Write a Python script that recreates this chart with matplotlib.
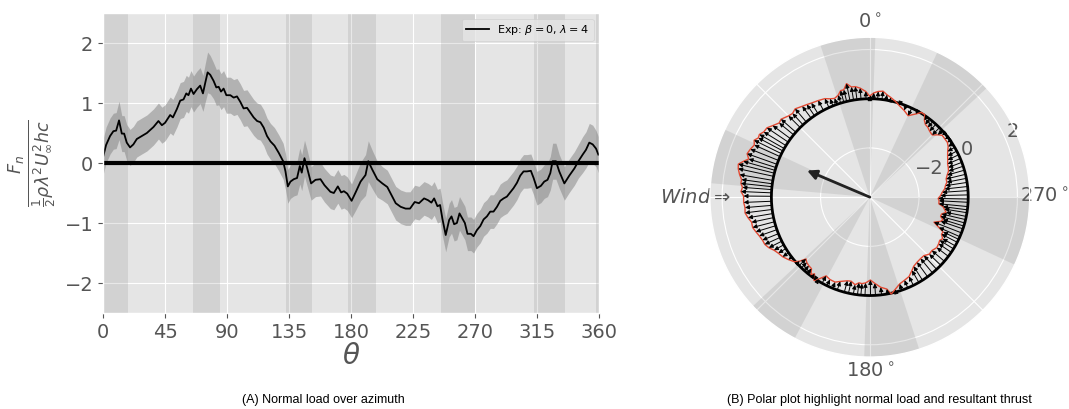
import numpy as np
import matplotlib.pyplot as plt

plt.style.use('ggplot')

# azimuth (deg) and normalised normal load
theta_deg = [0, 2.2, 5.1, 7.5, 9.5, 11.6, 13.6, 15.3, 17.2, 19.6, 22.0, 24.5, 28.1, 31.8,
             34.2, 36.6, 40.2, 42.7, 45.0, 48.7, 50.7, 53.6, 56.0, 58.4, 60.4, 62.0, 63.8,
             65.7, 68.1, 70.5, 72.5, 74.2, 75.9, 77.8, 80.2, 82.2, 83.9, 85.6, 87.5, 89.5,
             92.4, 94.8, 97.2, 99.6, 102.0, 104.5, 106.9, 109.3, 111.8, 114.2, 116.6, 119.0,
             121.5, 124.4, 127.5, 130.7, 132.4, 134.1, 136.0, 138.4, 140.8, 142.8, 144.2,
             146.2, 148.1, 151.0, 154.2, 157.8, 160.7, 165.0, 167.5, 170.4, 172.8, 174.8,
             177.2, 180.4, 183.3, 186.9, 190.5, 192.5, 195.4, 199.0, 202.7, 206.3, 209.9,
             212.4, 216.0, 219.6, 222.8, 226.2, 229.3, 233.0, 235.9, 238.3, 240.3, 242.7,
             244.6, 246.3, 248.7, 251.2, 252.9, 254.8, 256.8, 258.7, 260.9, 262.6, 264.5,
             267.0, 268.9, 271.3, 273.8, 276.2, 278.6, 281.0, 283.4, 285.9, 288.3, 290.7,
             293.1, 295.5, 297.9, 300.4, 302.8, 305.2, 307.6, 310.5, 312.5, 314.9, 317.8,
             320.2, 322.6, 324.6, 326.3, 328.7, 331.1, 334.8, 338.4, 342.1, 345.0, 348.1,
             350.5, 352.9, 355.4, 357.8, 359.5]
fn_mean = [0.10, 0.30, 0.45, 0.53, 0.54, 0.71, 0.49, 0.49, 0.34, 0.26, 0.31, 0.40, 0.45, 0.50,
           0.55, 0.60, 0.70, 0.63, 0.67, 0.80, 0.76, 0.90, 1.04, 1.06, 1.16, 1.13, 1.24,
           1.15, 1.23, 1.29, 1.16, 1.34, 1.51, 1.47, 1.37, 1.26, 1.27, 1.19, 1.24, 1.13,
           1.13, 1.09, 1.11, 1.02, 0.91, 0.92, 0.84, 0.76, 0.70, 0.68, 0.59, 0.45,
           0.36, 0.29, 0.17, 0.03, -0.14, -0.39, -0.31, -0.27, -0.25, -0.05, -0.16,
           0.08, -0.08, -0.34, -0.28, -0.27, -0.37, -0.48, -0.50, -0.39, -0.49, -0.47,
           -0.51, -0.63, -0.49, -0.31, -0.20, 0.03, -0.11, -0.27, -0.34, -0.40, -0.56,
           -0.67, -0.73, -0.76, -0.76, -0.65, -0.67, -0.59, -0.62, -0.66, -0.59, -0.72,
           -0.70, -0.93, -1.20, -0.95, -0.89, -1.02, -1.00, -0.84, -0.93, -1.00, -1.18,
           -1.18, -1.22, -1.12, -1.05, -0.94, -0.89, -0.81, -0.81, -0.73, -0.63, -0.59,
           -0.56, -0.49, -0.42, -0.33, -0.21, -0.14, -0.14, -0.13, -0.25, -0.42, -0.38,
           -0.31, -0.28, -0.17, 0.03, 0.03, -0.14, -0.34, -0.21, -0.09, 0.03, 0.14,
           0.22, 0.34, 0.31, 0.24, 0.14]
fn_std = [0.30, 0.30, 0.30, 0.30, 0.30, 0.32, 0.30, 0.30, 0.30, 0.30, 0.30, 0.30, 0.30, 0.30,
          0.30, 0.30, 0.30, 0.30, 0.30, 0.30, 0.30, 0.30, 0.30, 0.30, 0.30, 0.30, 0.30,
          0.30, 0.30, 0.30, 0.30, 0.32, 0.34, 0.32, 0.30, 0.30, 0.30, 0.30, 0.30, 0.30,
          0.30, 0.30, 0.30, 0.30, 0.30, 0.30, 0.30, 0.30, 0.30, 0.30, 0.30, 0.30,
          0.30, 0.30, 0.30, 0.30, 0.30, 0.28, 0.28, 0.28, 0.28, 0.30, 0.30,
          0.30, 0.30, 0.28, 0.28, 0.28, 0.28, 0.28, 0.28, 0.28, 0.28, 0.28,
          0.28, 0.28, 0.30, 0.32, 0.34, 0.34, 0.32, 0.30, 0.28, 0.28, 0.28,
          0.28, 0.28, 0.28, 0.28, 0.28, 0.28, 0.28, 0.28, 0.28, 0.28, 0.28,
          0.28, 0.28, 0.28, 0.28, 0.28, 0.28, 0.28, 0.28, 0.28, 0.28, 0.28,
          0.28, 0.28, 0.28, 0.28, 0.28, 0.28, 0.28, 0.28, 0.28, 0.28, 0.28,
          0.28, 0.28, 0.28, 0.28, 0.28, 0.28, 0.28, 0.28, 0.28, 0.28, 0.28,
          0.28, 0.28, 0.28, 0.30, 0.30, 0.28, 0.28, 0.28, 0.28, 0.28, 0.30,
          0.30, 0.32, 0.32, 0.30, 0.30]

# shaded azimuth sectors
shade_bands = [(0, 18), (65, 85), (133, 152), (178, 198), (245, 270), (313, 335), (358, 360)]

# resultant thrust arrow (direction in deg, tip radius on the polar axis)
thrust_theta = 67
thrust_r = -1.23

th = np.array(theta_deg)
fn = np.array(fn_mean)
sd = np.array(fn_std)

fig = plt.figure(figsize=(10.69, 4.09), dpi=100)

# (A) normal load over azimuth
ax1 = fig.add_axes([0.0964, 0.2347, 0.464, 0.7335])
for a, b in shade_bands:
    ax1.axvspan(a, b, color='gray', alpha=0.18, lw=0)
ax1.fill_between(th, fn - sd, fn + sd, color='gray', alpha=0.5, lw=0)
ax1.plot(th, fn, color='k', lw=1.3, label=r'Exp: $\beta=0$, $\lambda=4$')
ax1.axhline(0, color='k', lw=3)
ax1.set_xlim(0, 360)
ax1.set_ylim(-2.5, 2.5)
ax1.set_xticks(np.arange(0, 361, 45))
ax1.set_yticks([-2, -1, 0, 1, 2])
ax1.tick_params(labelsize=14)
ax1.set_xlabel(r'$\theta$', fontsize=20, color='#555555', labelpad=0)
ax1.set_ylabel(r'$\frac{F_n}{\frac{1}{2}\rho\lambda^2U_\infty^2hc}$', fontsize=18, color='#555555')
ax1.legend(loc='upper right', fontsize=8)

# (B) polar view
ax2 = fig.add_axes([0.664, 0.127, 0.2993, 0.782], projection='polar')
ax2.set_theta_zero_location('N')
ax2.set_theta_direction(1)
for a, b in shade_bands:
    ax2.bar(np.deg2rad((a + b) / 2), 6.5, width=np.deg2rad(b - a), bottom=-4,
            color='gray', alpha=0.18, lw=0)
circ = np.linspace(0, 2 * np.pi, 361)
ax2.plot(circ, np.zeros_like(circ), color='k', lw=2)
ax2.plot(np.deg2rad(th), fn, color='#E24A33', lw=1)
for t, f in zip(th, fn):
    if abs(f) < 0.06:
        continue
    ax2.annotate('', xy=(np.deg2rad(t), f), xytext=(np.deg2rad(t), 0),
                 arrowprops=dict(arrowstyle='-|>', color='k', lw=0.7,
                                 mutation_scale=6, shrinkA=0, shrinkB=0))
ax2.annotate('', xy=(np.deg2rad(thrust_theta), thrust_r), xytext=(0, -4),
             arrowprops=dict(arrowstyle='-|>', color='#222222', lw=2,
                             mutation_scale=14, shrinkA=0, shrinkB=0))
ax2.set_rlim(-4, 2.5)
ax2.set_rticks([-2, 0, 2])
ax2.set_rlabel_position(292.5)
ax2.set_thetagrids(range(0, 360, 45),
                   labels=[r'$0^\circ$', '', r'$Wind \Rightarrow$', '', r'$180^\circ$', '',
                           r'$270^\circ$', ''])
ax2.tick_params(labelsize=14)
ax2.tick_params(axis='x', pad=0)

fig.text(323 / 1069, 1 - 400 / 409, '(A) Normal load over azimuth', ha='center', va='center',
         fontsize=9, family='Liberation Sans', color='k')
fig.text(879 / 1069, 1 - 400 / 409, '(B) Polar plot highlight normal load and resultant thrust',
         ha='center', va='center', fontsize=9, family='Liberation Sans', color='k')

fig.savefig('out.png', dpi=100)
